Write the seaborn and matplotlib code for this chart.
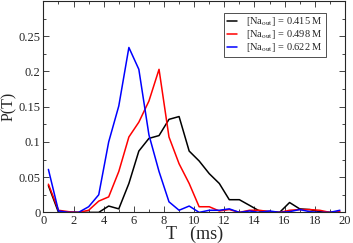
import numpy as np
import pandas as pd
import matplotlib
matplotlib.use("Agg")
import matplotlib.pyplot as plt
import seaborn as sns
from matplotlib.ticker import MultipleLocator

#==================
#Data
#==================
# bin centres (ms), bin width 2/3 ms
T = [0.33, 1.0, 1.67, 2.33, 3.0, 3.67, 4.33, 5.0, 5.67, 6.33,
     7.0, 7.67, 8.33, 9.0, 9.67, 10.33, 11.0, 11.67, 12.33, 13.0,
     13.67, 14.33, 15.0, 15.67, 16.33, 17.0, 17.67, 18.33, 19.0, 19.67]

p_0415 = [0.038, 0.0, 0.0, 0.0, 0.0, 0.0, 0.009, 0.005, 0.041, 0.087,
          0.105, 0.109, 0.132, 0.136, 0.087, 0.073, 0.055, 0.041, 0.018, 0.018,
          0.010, 0.002, 0.001, 0.0, 0.014, 0.005, 0.004, 0.001, 0.0, 0.0]

p_0498 = [0.040, 0.003, 0.001, 0.0, 0.003, 0.016, 0.022, 0.058, 0.107, 0.128,
          0.158, 0.203, 0.107, 0.069, 0.041, 0.008, 0.008, 0.002, 0.004, 0.0,
          0.003, 0.003, 0.001, 0.0, 0.003, 0.004, 0.004, 0.003, 0.0, 0.001]

p_0622 = [0.061, 0.002, 0.0, 0.0, 0.008, 0.025, 0.100, 0.151, 0.234, 0.203,
          0.110, 0.058, 0.015, 0.003, 0.009, 0.0, 0.003, 0.003, 0.005, 0.0,
          0.002, 0.0, 0.002, 0.0, 0.001, 0.004, 0.001, 0.0, 0.0, 0.003]

labels = [r"[Na$_{\rm out}$] = 0.415 M",
          r"[Na$_{\rm out}$] = 0.498 M",
          r"[Na$_{\rm out}$] = 0.622 M"]
colors = ["black", "red", "blue"]

df = pd.DataFrame({
    "T": T * 3,
    "P": p_0415 + p_0498 + p_0622,
    "conc": [labels[0]] * len(T) + [labels[1]] * len(T) + [labels[2]] * len(T),
})

#==================
#Plot
#==================
sns.set_style("ticks")
plt.rcParams["font.family"] = ["Liberation Serif", "DejaVu Serif"]
plt.rcParams["mathtext.fontset"] = "stix"

fig = plt.figure(figsize=(3.53, 2.43), dpi=100)
ax = fig.add_axes([0.123, 0.126, 0.854, 0.870])

sns.lineplot(
    data=df, x="T", y="P", hue="conc",
    palette=dict(zip(labels, colors)),
    linewidth=1.1, ax=ax
)

ax.set_xlim(0, 20)
ax.set_ylim(0, 0.3)
ax.xaxis.set_major_locator(MultipleLocator(2))
ax.xaxis.set_minor_locator(MultipleLocator(1))
ax.yaxis.set_major_locator(MultipleLocator(0.05))
ax.yaxis.set_minor_locator(MultipleLocator(0.025))
ax.set_yticks([0, 0.05, 0.1, 0.15, 0.2, 0.25])
ax.set_yticklabels(["0", "0.05", "0.1", "0.15", "0.2", "0.25"])
ax.tick_params(which="both", direction="in", top=True, right=True,
               labelsize=9, width=0.6, pad=2)
ax.tick_params(which="major", length=4)
ax.tick_params(which="minor", length=2)
for s in ax.spines.values():
    s.set_linewidth(0.8)

ax.set_xlabel("T   (ms)", fontsize=13, labelpad=-1)
ax.set_ylabel("P(T)", fontsize=11.5)
ax.yaxis.set_label_coords(-0.088, 0.5)

leg = ax.legend(loc="upper right", bbox_to_anchor=(0.937, 0.945),
                fontsize=7.5, frameon=True, fancybox=False,
                handlelength=1.0, handletextpad=0.9, labelspacing=0.0,
                borderpad=0.25, borderaxespad=0, title=None)
leg.get_frame().set_edgecolor("black")
leg.get_frame().set_linewidth(0.6)

plt.savefig("out.png", dpi=100)
